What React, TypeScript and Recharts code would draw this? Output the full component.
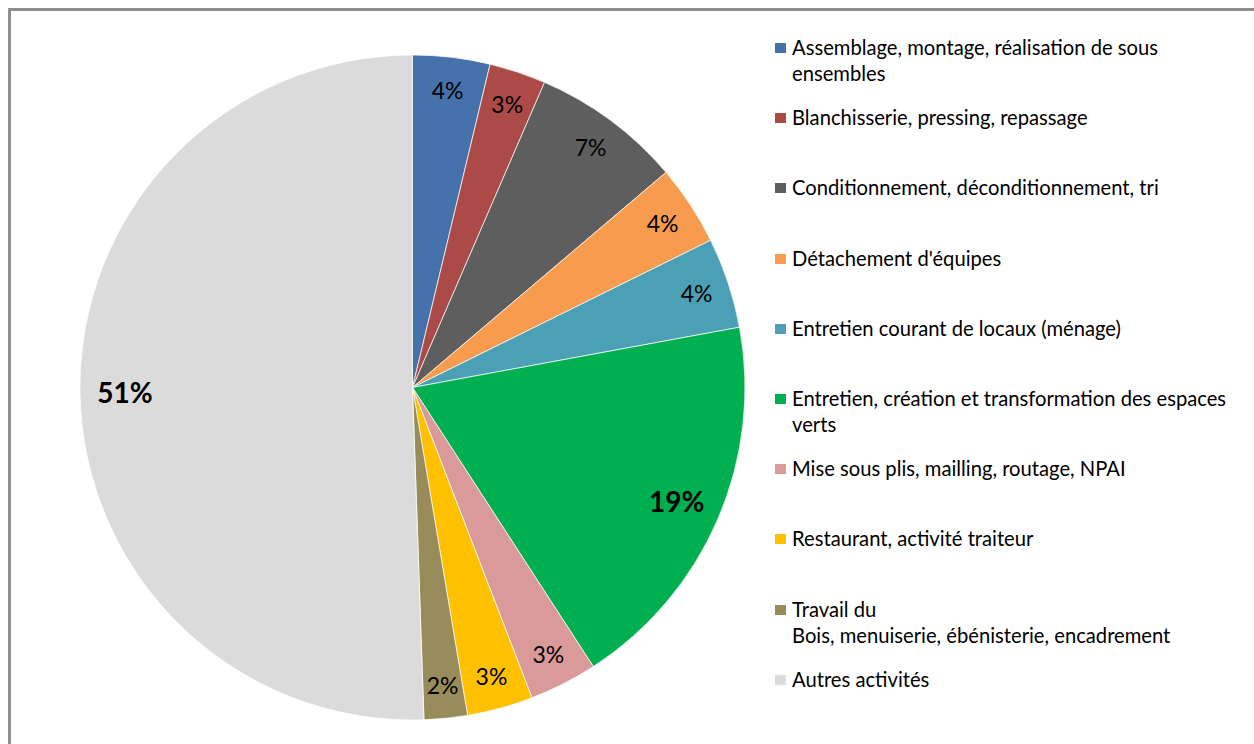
import React from 'react';
import { PieChart, Pie, Cell, Legend } from 'recharts';

if (typeof document !== 'undefined') {
  document.documentElement.style.overflow = 'hidden';
  document.body.style.overflow = 'hidden';
}

const categories = [
  'Assemblage, montage, réalisation de sous\nensembles',
  'Blanchisserie, pressing, repassage',
  'Conditionnement, déconditionnement, tri',
  "Détachement d'équipes",
  'Entretien courant de locaux (ménage)',
  'Entretien, création et transformation des espaces\nverts',
  'Mise sous plis, mailling, routage, NPAI',
  'Restaurant, activité traiteur',
  'Travail du\nBois, menuiserie, ébénisterie, encadrement',
  'Autres activités',
];

const values = [3.75, 2.75, 7.3, 3.9, 4.4, 18.75, 3.3, 3.2, 2.1, 50.55];

const colors = [
  '#4672AB',
  '#AB4A46',
  '#5E5E5E',
  '#F79B4F',
  '#4BA0B5',
  '#00B050',
  '#DB9A9A',
  '#FFC000',
  '#978C5A',
  '#DBDBDB',
];

const data = categories.map((name, i) => ({ name, value: values[i] }));

const RAD = Math.PI / 180;
const FONT = 'Lato, "Open Sans", sans-serif';

const renderLabel = (props: any) => {
  const { cx, cy, midAngle, outerRadius, percent } = props;
  const big = percent > 0.1;
  const r = outerRadius * (big ? 0.865 : 0.9);
  const x = cx + r * Math.cos(-midAngle * RAD);
  const y = cy + r * Math.sin(-midAngle * RAD);
  return (
    <text
      x={x}
      y={y}
      textAnchor="middle"
      dominantBaseline="central"
      fill="#000"
      fontFamily={FONT}
      fontSize={big ? 28 : 23}
      fontWeight={big ? 700 : 400}
    >
      {`${Math.round(percent * 100)}%`}
    </text>
  );
};

const LegendContent = () => (
  <div style={{ fontFamily: FONT, fontSize: 20.2, color: '#000' }}>
    {categories.map((c, i) => (
      <div key={i} style={{ height: 70.2, position: 'relative' }}>
        <div
          style={{
            position: 'absolute',
            left: 0,
            top: 9,
            width: 11,
            height: 10,
            background: colors[i],
          }}
        />
        <div style={{ marginLeft: 17, lineHeight: '26px', whiteSpace: 'pre' }}>{c}</div>
      </div>
    ))}
  </div>
);

export default function App() {
  return (
    <div
      style={{
        position: 'fixed',
        left: 8,
        top: 8,
        width: 1300,
        height: 800,
        border: '3px solid #8f8f8f',
        background: '#fff',
      }}
    >
      <PieChart width={1280} height={780} margin={{ top: 0, right: 0, bottom: 0, left: 0 }}>
        <Pie
          data={data}
          dataKey="value"
          nameKey="name"
          cx={401.5}
          cy={376.5}
          outerRadius={332.5}
          startAngle={90}
          endAngle={-270}
          stroke="#ffffff"
          strokeWidth={0.7}
          label={renderLabel}
          labelLine={false}
          isAnimationActive={false}
        >
          {data.map((d, i) => (
            <Cell key={i} fill={colors[i]} />
          ))}
        </Pie>
        <Legend
          layout="vertical"
          verticalAlign="top"
          align="right"
          content={<LegendContent />}
          wrapperStyle={{ position: 'absolute', left: 764, top: 23, width: 480 }}
        />
      </PieChart>
    </div>
  );
}
